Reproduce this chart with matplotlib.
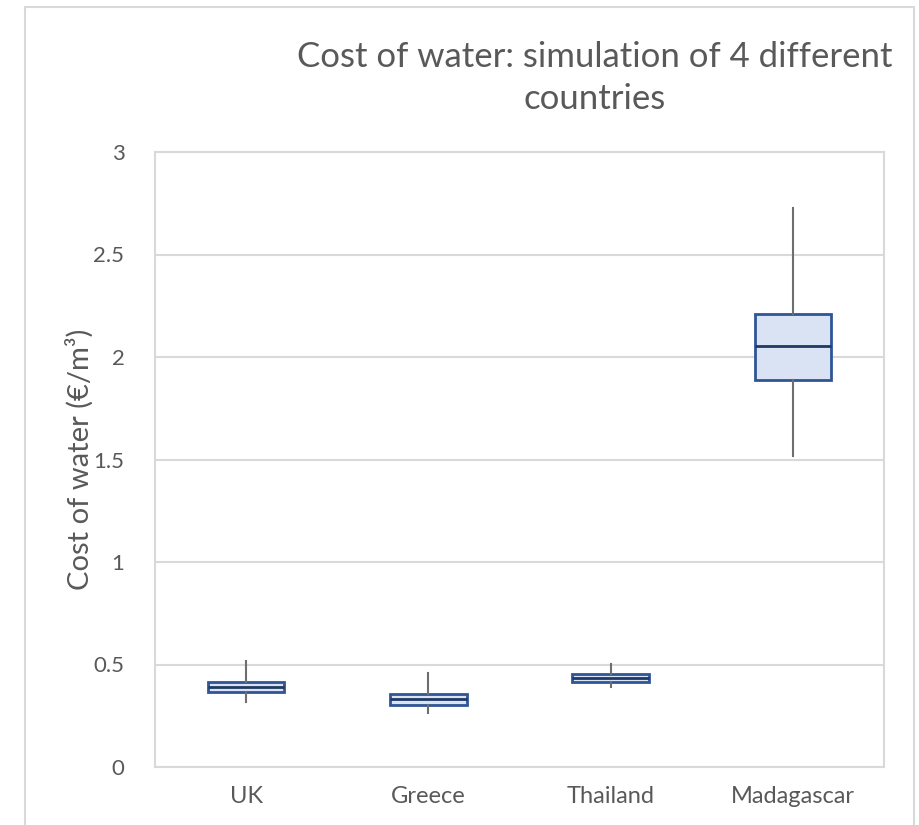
import matplotlib.pyplot as plt
from matplotlib.patches import Rectangle

countries = ["UK", "Greece", "Thailand", "Madagascar"]
whisker_low = [0.319, 0.265, 0.389, 1.519]
q1 = [0.364, 0.301, 0.416, 1.888]
median = [0.390, 0.330, 0.436, 2.055]
q3 = [0.416, 0.358, 0.452, 2.210]
whisker_high = [0.517, 0.457, 0.502, 2.727]

text_col = "#595959"
grid_col = "#D9D9D9"

plt.rcParams['font.family'] = ['Lato', 'DejaVu Sans']

fig = plt.figure(figsize=(9.19, 8.25), dpi=100)
ax = fig.add_axes([155/919, 58/825, 729/919, 615/825])

# outer chart border
fig.patches.append(Rectangle((25/919, -0.05), (914-25)/919, 1.05 - 7/825,
                             transform=fig.transFigure, fill=False,
                             edgecolor=grid_col, linewidth=1.5))

stats = []
for i, c in enumerate(countries):
    stats.append(dict(label=c, whislo=whisker_low[i], q1=q1[i], med=median[i],
                      q3=q3[i], whishi=whisker_high[i], fliers=[]))

pos = list(range(1, len(countries) + 1))
ax.bxp(stats, positions=pos, widths=0.42, patch_artist=True, showcaps=False,
       boxprops=dict(facecolor="#DAE3F3", edgecolor="#2F5597", linewidth=2),
       medianprops=dict(color="#1F3864", linewidth=2),
       whiskerprops=dict(color="#6E6E6E", linewidth=1.5), zorder=3)

ax.set_xlim(0.5, 4.5)
ax.set_ylim(0, 3)
ax.set_yticks([0, 0.5, 1, 1.5, 2, 2.5, 3])
ax.set_yticklabels(["0", "0.5", "1", "1.5", "2", "2.5", "3"])
ax.grid(axis='y', color=grid_col, linewidth=1.5, zorder=0)
ax.set_axisbelow(True)
for s in ax.spines.values():
    s.set_color(grid_col)
    s.set_linewidth(1.5)
ax.tick_params(length=0, labelsize=16, colors=text_col, pad=22)
ax.tick_params(axis='x', labelsize=17, pad=14)
ax.set_ylabel("Cost of water (€/m³)", fontsize=21, color=text_col, labelpad=0)

fig.text(595/919, 1 - 78/825, "Cost of water: simulation of 4 different\ncountries",
         ha='center', va='center', fontsize=25, color=text_col, linespacing=1.35)

fig.savefig("out.png", dpi=100)
